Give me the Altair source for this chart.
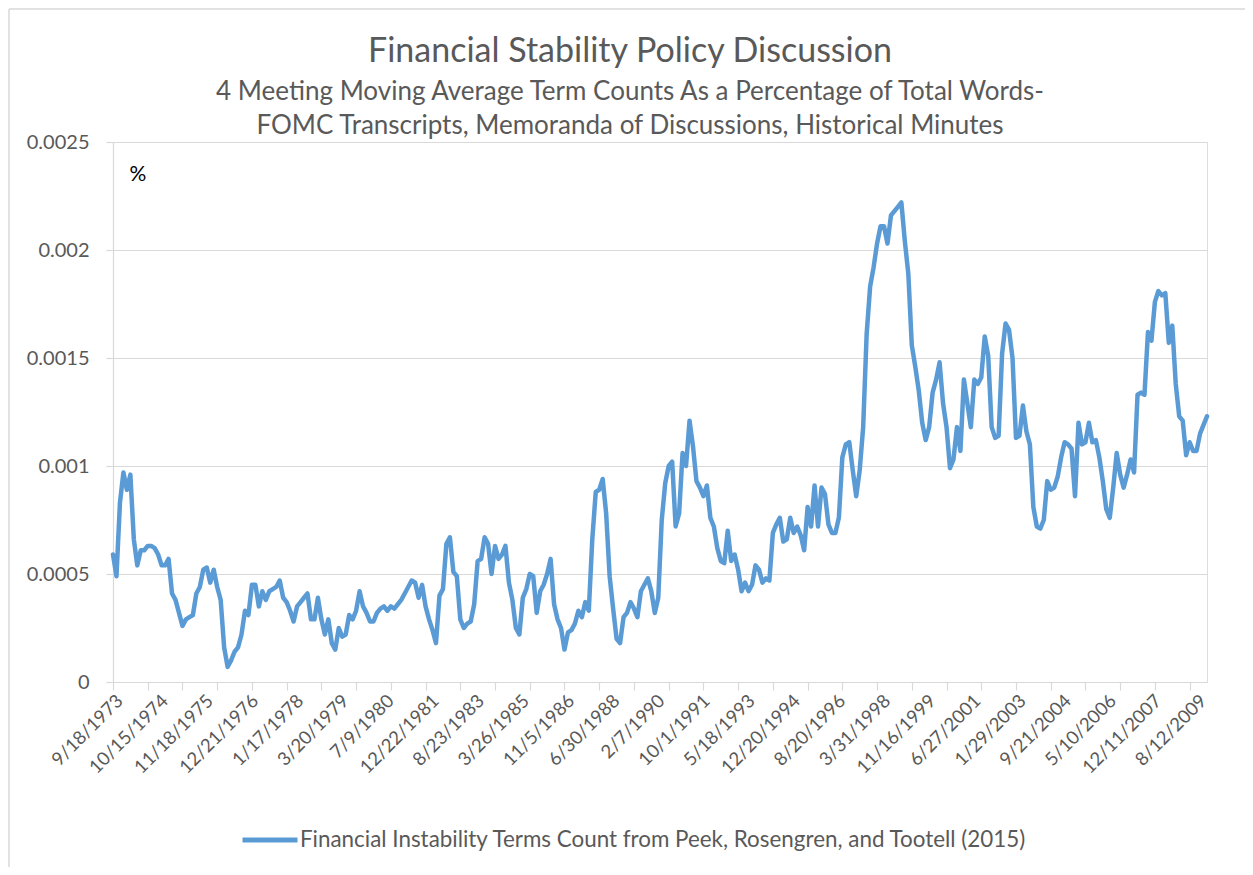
import altair as alt
import pandas as pd

# ---- data ----
meeting_labels = ["9/18/1973", "10/15/1974", "11/18/1975", "12/21/1976", "1/17/1978",
                  "3/20/1979", "7/9/1980", "12/22/1981", "8/23/1983", "3/26/1985",
                  "11/5/1986", "6/30/1988", "2/7/1990", "10/1/1991", "5/18/1993",
                  "12/20/1994", "8/20/1996", "3/31/1998", "11/16/1999", "6/27/2001",
                  "1/29/2003", "9/21/2004", "5/10/2006", "12/11/2007", "8/12/2009"]

term_share = [
    0.00059, 0.00049, 0.00083, 0.00097, 0.00089, 0.00096, 0.00066, 0.00054, 0.00061, 0.00061,
    0.00063, 0.00063, 0.00062, 0.00059, 0.00054, 0.00054, 0.00057, 0.00041, 0.00038, 0.00032,
    0.00026, 0.00029, 0.00030, 0.00031, 0.00041, 0.00044, 0.00052, 0.00053, 0.00046, 0.00052,
    0.00044, 0.00038, 0.00016, 0.00007, 0.00010, 0.00014, 0.00016, 0.00022, 0.00033, 0.00031,
    0.00045, 0.00045, 0.00035, 0.00042, 0.00038, 0.00042, 0.00043, 0.00044, 0.00047, 0.00039,
    0.00037, 0.00033, 0.00028, 0.00035, 0.00037, 0.00039, 0.00041, 0.00029, 0.00029, 0.00039,
    0.00029, 0.00022, 0.00029, 0.00018, 0.00015, 0.00025, 0.00021, 0.00022, 0.00031, 0.00029,
    0.00033, 0.00042, 0.00035, 0.00032, 0.00028, 0.00028, 0.00032, 0.00034, 0.00035, 0.00033,
    0.00035, 0.00034, 0.00036, 0.00038, 0.00041, 0.00044, 0.00047, 0.00046, 0.00039, 0.00045,
    0.00035, 0.00029, 0.00024, 0.00018, 0.00040, 0.00043, 0.00064, 0.00067, 0.00051, 0.00049,
    0.00029, 0.00025, 0.00027, 0.00028, 0.00036, 0.00056, 0.00057, 0.00067, 0.00064, 0.00050,
    0.00063, 0.00057, 0.00059, 0.00063, 0.00046, 0.00038, 0.00025, 0.00022, 0.00039, 0.00043,
    0.00050, 0.00049, 0.00032, 0.00042, 0.00045, 0.00050, 0.00057, 0.00036, 0.00029, 0.00025,
    0.00015, 0.00023, 0.00024, 0.00027, 0.00033, 0.00030, 0.00037, 0.00033, 0.00066, 0.00088,
    0.00089, 0.00094, 0.00078, 0.00049, 0.00034, 0.00020, 0.00018, 0.00030, 0.00032, 0.00037,
    0.00034, 0.00030, 0.00042, 0.00045, 0.00048, 0.00042, 0.00032, 0.00039, 0.00075, 0.00092,
    0.00100, 0.00102, 0.00072, 0.00078, 0.00106, 0.00100, 0.00121, 0.00109, 0.00093, 0.00090,
    0.00086, 0.00091, 0.00076, 0.00072, 0.00062, 0.00056, 0.00055, 0.00070, 0.00056, 0.00059,
    0.00052, 0.00042, 0.00046, 0.00042, 0.00045, 0.00054, 0.00052, 0.00046, 0.00048, 0.00047,
    0.00069, 0.00073, 0.00076, 0.00065, 0.00066, 0.00076, 0.00069, 0.00072, 0.00068, 0.00061,
    0.00081, 0.00072, 0.00091, 0.00072, 0.00090, 0.00087, 0.00073, 0.00069, 0.00069, 0.00076,
    0.00104, 0.00110, 0.00111, 0.00098, 0.00086, 0.00098, 0.00118, 0.00161, 0.00183, 0.00192,
    0.00203, 0.00211, 0.00211, 0.00203, 0.00216, 0.00218, 0.00220, 0.00222, 0.00204, 0.00189,
    0.00156, 0.00146, 0.00135, 0.00120, 0.00112, 0.00118, 0.00134, 0.00140, 0.00148, 0.00129,
    0.00118, 0.00099, 0.00103, 0.00118, 0.00107, 0.00140, 0.00129, 0.00118, 0.00140, 0.00138,
    0.00141, 0.00160, 0.00151, 0.00118, 0.00113, 0.00114, 0.00152, 0.00166, 0.00163, 0.00150,
    0.00113, 0.00114, 0.00128, 0.00116, 0.00110, 0.00081, 0.00072, 0.00071, 0.00075, 0.00093,
    0.00089, 0.00090, 0.00095, 0.00104, 0.00111, 0.00110, 0.00108, 0.00086, 0.00120, 0.00110,
    0.00111, 0.00120, 0.00111, 0.00112, 0.00104, 0.00093, 0.00080, 0.00076, 0.00090, 0.00106,
    0.00096, 0.00090, 0.00096, 0.00103, 0.00097, 0.00133, 0.00134, 0.00133, 0.00162, 0.00158,
    0.00176, 0.00181, 0.00179, 0.00180, 0.00157, 0.00165, 0.00138, 0.00123, 0.00121, 0.00105,
    0.00111, 0.00107, 0.00107, 0.00115, 0.00119, 0.00123,
]

series_name = "Financial Instability Terms Count from Peek, Rosengren, and Tootell (2015)"
title_text = "Financial Stability Policy Discussion"
subtitle_lines = ["4 Meeting Moving Average Term Counts As a Percentage of Total Words-",
                  "FOMC Transcripts, Memoranda of Discussions, Historical Minutes"]
unit_label = "%"
y_ticks = [0, 0.0005, 0.001, 0.0015, 0.002, 0.0025]

LABEL_EVERY = 13
TICK_EVERY = 10

n = len(term_share)
df = pd.DataFrame({"idx": list(range(n)), "value": term_share, "series": [series_name] * n})

label_idx = [i * LABEL_EVERY for i in range(len(meeting_labels))]
tick_idx = list(range(0, n, TICK_EVERY))
label_expr = "[" + ",".join("'%s'" % d for d in meeting_labels) + "][round(datum.value/%d)]" % LABEL_EVERY

TXT = "#595959"
GRID = "#d9d9d9"
FONT = "Lato"
BLUE = "#5B9BD5"

xscale = alt.Scale(domain=[0, n - 1], nice=False, zero=False)
yscale = alt.Scale(domain=[0, 0.0025], nice=False)

base = alt.Chart(df)

line = base.mark_line(color=BLUE, strokeWidth=4.5, strokeJoin="round", strokeCap="round").encode(
    x=alt.X("idx:Q", scale=xscale,
            axis=alt.Axis(values=label_idx, labelExpr=label_expr, labelAngle=-45,
                          ticks=False, grid=False, domain=True, domainColor=GRID,
                          domainWidth=1.2, labelColor=TXT, labelFont=FONT,
                          labelFontSize=18.5, labelPadding=9, title=None, orient="bottom",
                          labelOverlap=False, labelBound=False, labelFlush=False)),
    y=alt.Y("value:Q", scale=yscale,
            axis=alt.Axis(values=y_ticks, format="~g", grid=True, gridColor=GRID,
                          gridWidth=1.2, domain=True, domainColor=GRID, domainWidth=1.2,
                          ticks=True, tickColor=GRID, tickSize=7, tickWidth=1.2,
                          labelColor=TXT, labelFont=FONT, labelFontSize=20,
                          labelPadding=17, title=None)),
    color=alt.Color("series:N", scale=alt.Scale(range=[BLUE]),
                    legend=alt.Legend(title=None, orient="none", legendX=127, legendY=668,
                                      symbolType="stroke", symbolSize=3025,
                                      symbolStrokeWidth=5, symbolStrokeColor=BLUE,
                                      labelFont=FONT, labelFontSize=22.4, labelColor=TXT,
                                      labelOffset=0, labelLimit=1000)),
)

ticks_layer = base.mark_line(opacity=0).encode(
    x=alt.X("idx:Q", scale=xscale,
            axis=alt.Axis(values=tick_idx, labels=False, grid=False, domain=False,
                          ticks=True, tickColor=GRID, tickSize=8, tickWidth=1.2,
                          title=None, orient="bottom")),
    y=alt.Y("value:Q", scale=yscale),
)

unit = alt.Chart(pd.DataFrame({"t": [unit_label]})).mark_text(
    font=FONT, fontSize=21, color="#000000", align="center", baseline="middle"
).encode(x=alt.value(25), y=alt.value(33), text="t:N")

frame_left = alt.Chart(pd.DataFrame({"k": [0]})).mark_rule(color=GRID, strokeWidth=1.5).encode(
    x=alt.value(-104), y=alt.value(-133), y2=alt.value(725))
frame_top = alt.Chart(pd.DataFrame({"k": [0]})).mark_rule(color=GRID, strokeWidth=1.5).encode(
    x=alt.value(-104), x2=alt.value(1132), y=alt.value(-133))

chart = alt.layer(frame_left, frame_top, ticks_layer, line, unit).resolve_axis(
    x="independent"
).properties(
    width=1094, height=540,
    autosize=alt.AutoSizeParams(type="none"),
    padding={"left": 105, "top": 134, "right": 38, "bottom": 185},
    title=alt.TitleParams(text=title_text, subtitle=subtitle_lines, anchor="middle", dx=-30,
                          frame="group",
                          font=FONT, fontSize=34, fontWeight="normal", color=TXT,
                          subtitleFont=FONT, subtitleFontSize=26, subtitleColor=TXT,
                          subtitleLineHeight=34, subtitlePadding=10, offset=-131),
).configure_view(stroke=None).configure(background="white")

chart.save("out.html", embed_options={"renderer": "svg", "actions": False})
